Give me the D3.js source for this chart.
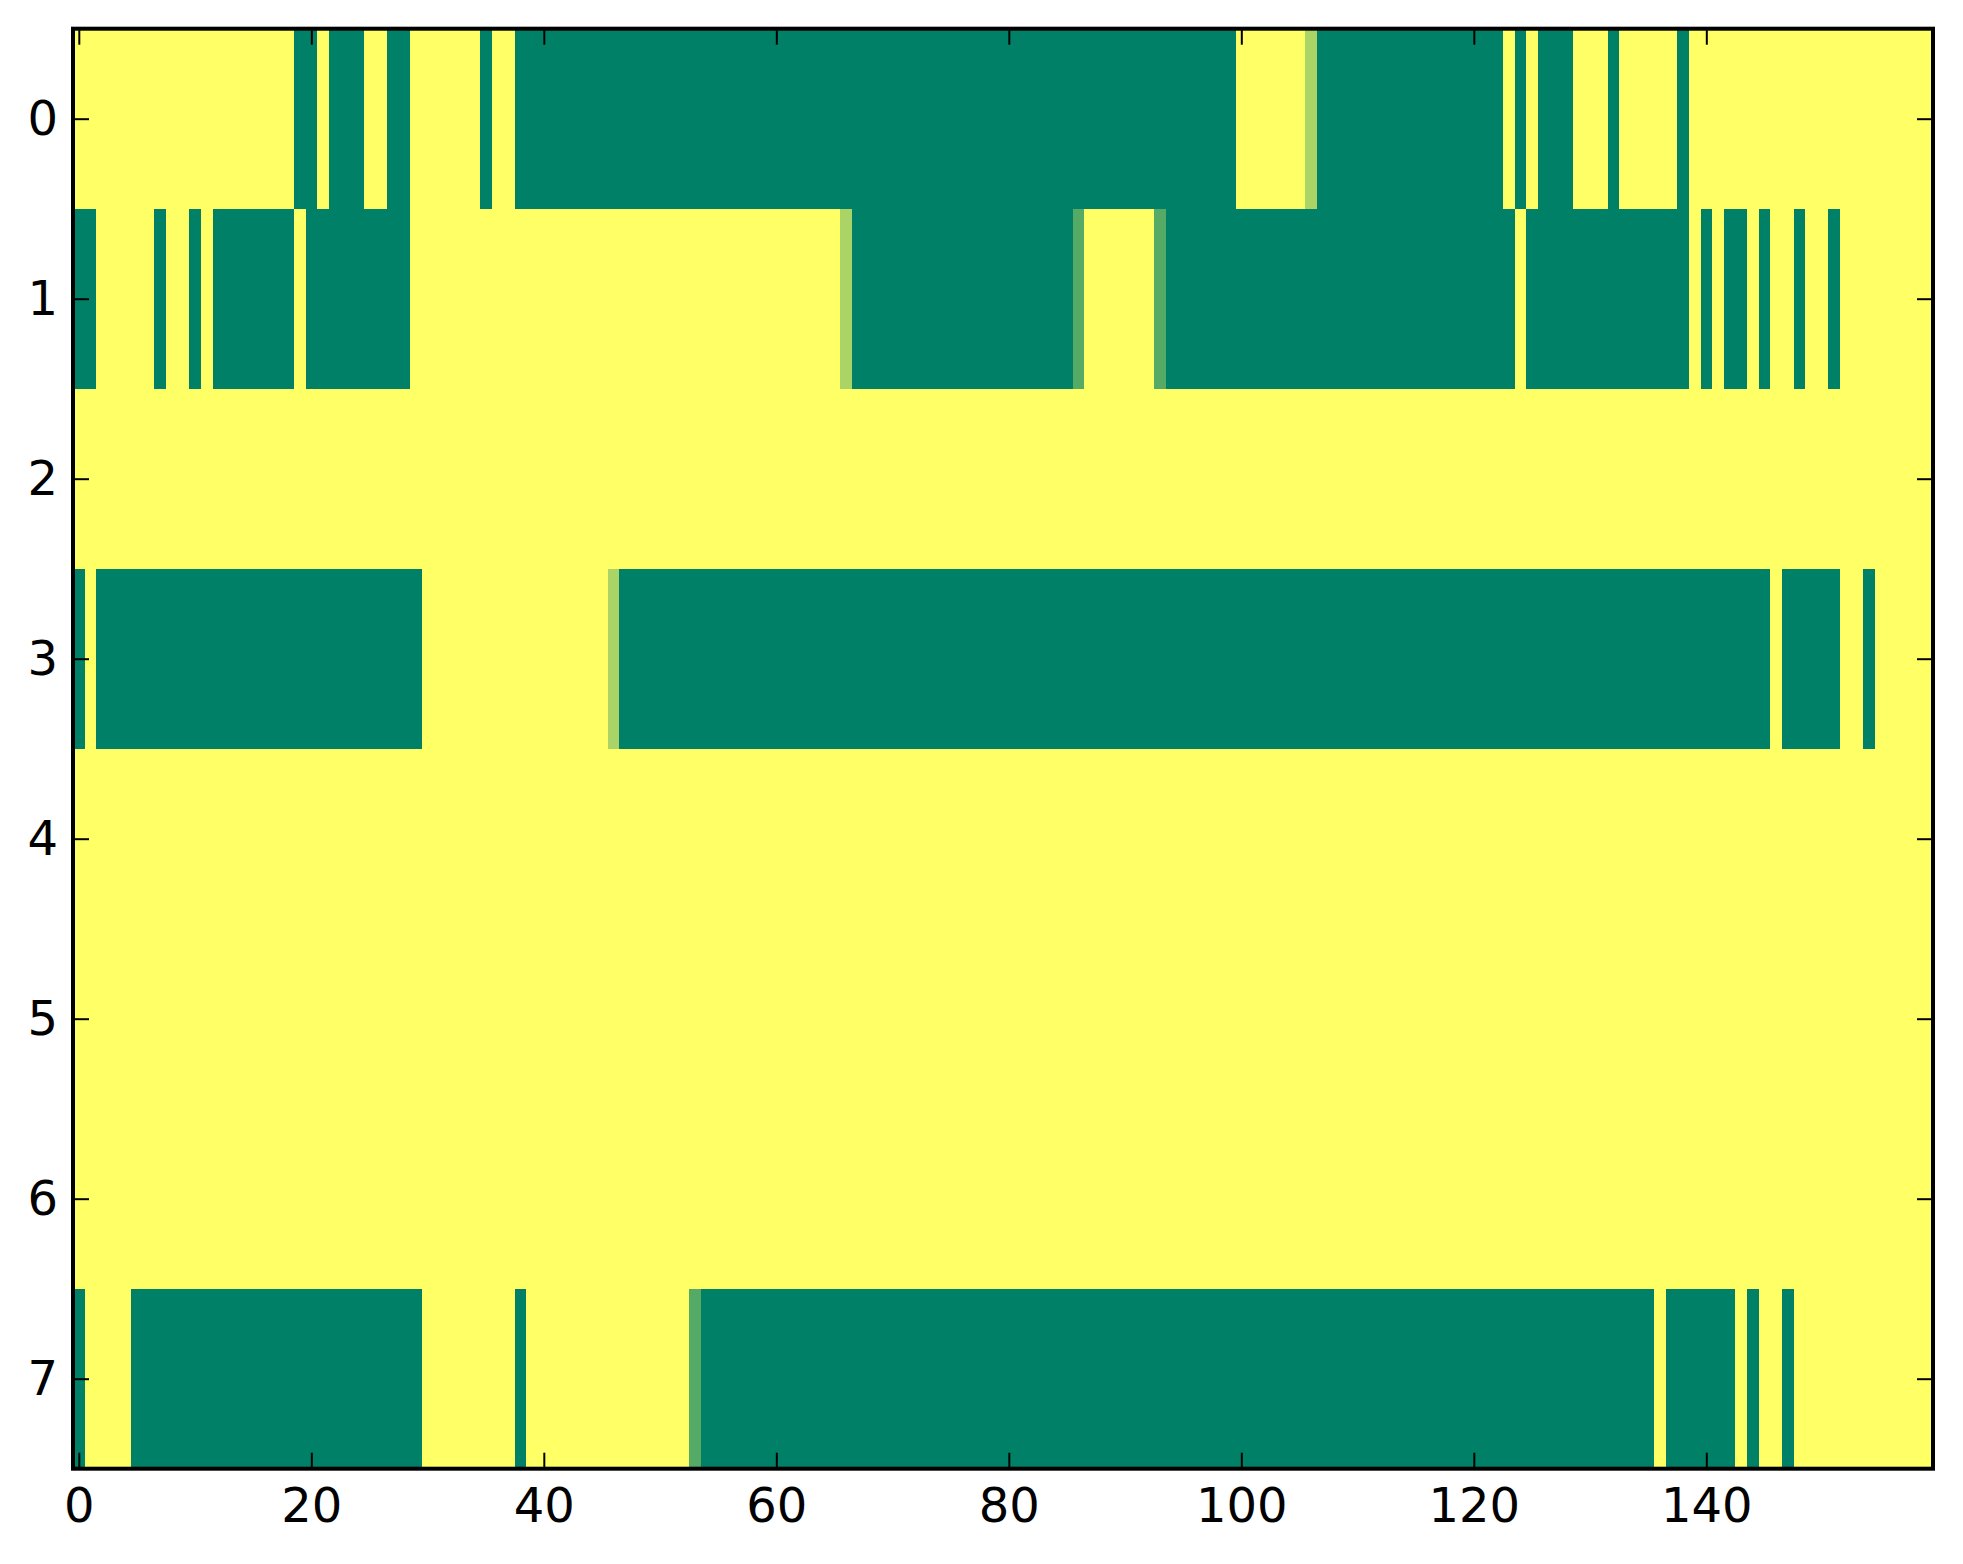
<!DOCTYPE html>
<html>
<head>
<meta charset="utf-8">
<script src="https://cdn.jsdelivr.net/npm/d3@7"></script>
<style>
    html, body { margin: 0; padding: 0; background: #ffffff; }
    svg { display: block; }
    .tick text { font-family: "DejaVu Sans", sans-serif; font-size: 48px; fill: #000000; }
</style>
</head>
<body>
<script>
// 每行 160 个格子：'1' = 1，'0' = 0，'a' = 1/3，'b' = 2/3（每 20 格一组）
const row0 = "11111111111111111110 01000110011111101100 00000000000000000000 00000000000000000000 00000000000000000000 111111b0000000000000 00010100011101111101 11111111111111111111";
const row1 = "00111110110100000001 00000000011111111111 11111111111111111111 111111b0000000000000 000000a111111a000000 00000000000000000000 00001000000000000001 01001011011011111111";
const row2 = "11111111111111111111 11111111111111111111 11111111111111111111 11111111111111111111 11111111111111111111 11111111111111111111 11111111111111111111 11111111111111111111";
const row3 = "01000000000000000000 00000000001111111111 111111b0000000000000 00000000000000000000 00000000000000000000 00000000000000000000 00000000000000000000 00000010000011011111";
const row4 = "11111111111111111111 11111111111111111111 11111111111111111111 11111111111111111111 11111111111111111111 11111111111111111111 11111111111111111111 11111111111111111111";
const row5 = "11111111111111111111 11111111111111111111 11111111111111111111 11111111111111111111 11111111111111111111 11111111111111111111 11111111111111111111 11111111111111111111";
const row6 = "11111111111111111111 11111111111111111111 11111111111111111111 11111111111111111111 11111111111111111111 11111111111111111111 11111111111111111111 11111111111111111111";
const row7 = "01111000000000000000 00000000001111111101 1111111111111a000000 00000000000000000000 00000000000000000000 00000000000000000000 00000000000000001000 00010110111111111111";

const rows = [row0, row1, row2, row3, row4, row5, row6, row7];
const xTickValues = [0, 20, 40, 60, 80, 100, 120, 140];
const yTickValues = [0, 1, 2, 3, 4, 5, 6, 7];
const cellCodes = {'0': 0, '1': 1, 'a': 1 / 3, 'b': 2 / 3};

/**
 * 初始化 SVG 画布
 */
const initSVG = () => {
    let width = 1963,
        height = 1564;
    return d3.select('body')
        .append('svg')
        .attr('width', width)
        .attr('height', height);
};

/**
 * 绘制热力图
 */
const renderHeatmap = (svg) => {
    // 绘图区范围
    let left = 73, right = 1933, top = 28.7, bottom = 1468.7;

    // 构造格子数据
    let cells = [];
    rows.forEach((str, r) => {
        str.replace(/\s/g, '').split('').forEach((ch, c) => {
            cells.push({row: r, col: c, value: cellCodes[ch]});
        });
    });
    let nCols = d3.max(cells, d => d.col) + 1;

    let x = d3.scaleLinear().domain([-0.5, nCols - 0.5]).range([left, right]);
    let y = d3.scaleLinear().domain([-0.5, rows.length - 0.5]).range([top, bottom]);
    // summer 色图
    let color = d3.scaleLinear().domain([0, 1]).range(['#008066', '#ffff66']);

    svg.append('g')
        .selectAll('rect')
        .data(cells)
        .enter()
        .append('rect')
        .attr('x', d => x(d.col - 0.5))
        .attr('y', d => y(d.row - 0.5))
        .attr('width', x(1) - x(0) + 0.4)
        .attr('height', y(1) - y(0) + 0.4)
        .attr('fill', d => color(d.value))
        .attr('shape-rendering', 'crispEdges');

    // 坐标轴（刻度朝内）
    let tick = 16;
    let styleAxis = g => {
        g.select('.domain').remove();
        g.selectAll('.tick line').attr('stroke', '#000').attr('stroke-width', 2);
    };

    svg.append('g')
        .attr('transform', `translate(0,${bottom})`)
        .call(d3.axisBottom(x).tickValues(xTickValues).tickSizeInner(-tick).tickSizeOuter(0).tickPadding(19))
        .call(styleAxis);
    svg.append('g')
        .attr('transform', `translate(0,${top})`)
        .call(d3.axisTop(x).tickValues(xTickValues).tickSizeInner(-tick).tickSizeOuter(0).tickFormat(''))
        .call(styleAxis);
    svg.append('g')
        .attr('transform', `translate(${left},0)`)
        .call(d3.axisLeft(y).tickValues(yTickValues).tickSizeInner(-tick).tickSizeOuter(0).tickPadding(15))
        .call(styleAxis);
    svg.append('g')
        .attr('transform', `translate(${right},0)`)
        .call(d3.axisRight(y).tickValues(yTickValues).tickSizeInner(-tick).tickSizeOuter(0).tickFormat(''))
        .call(styleAxis);

    // 边框
    svg.append('rect')
        .attr('x', left)
        .attr('y', top)
        .attr('width', right - left)
        .attr('height', bottom - top)
        .attr('fill', 'none')
        .attr('stroke', '#000')
        .attr('stroke-width', 4);
};

let svg = initSVG();
renderHeatmap(svg);
</script>
</body>
</html>
